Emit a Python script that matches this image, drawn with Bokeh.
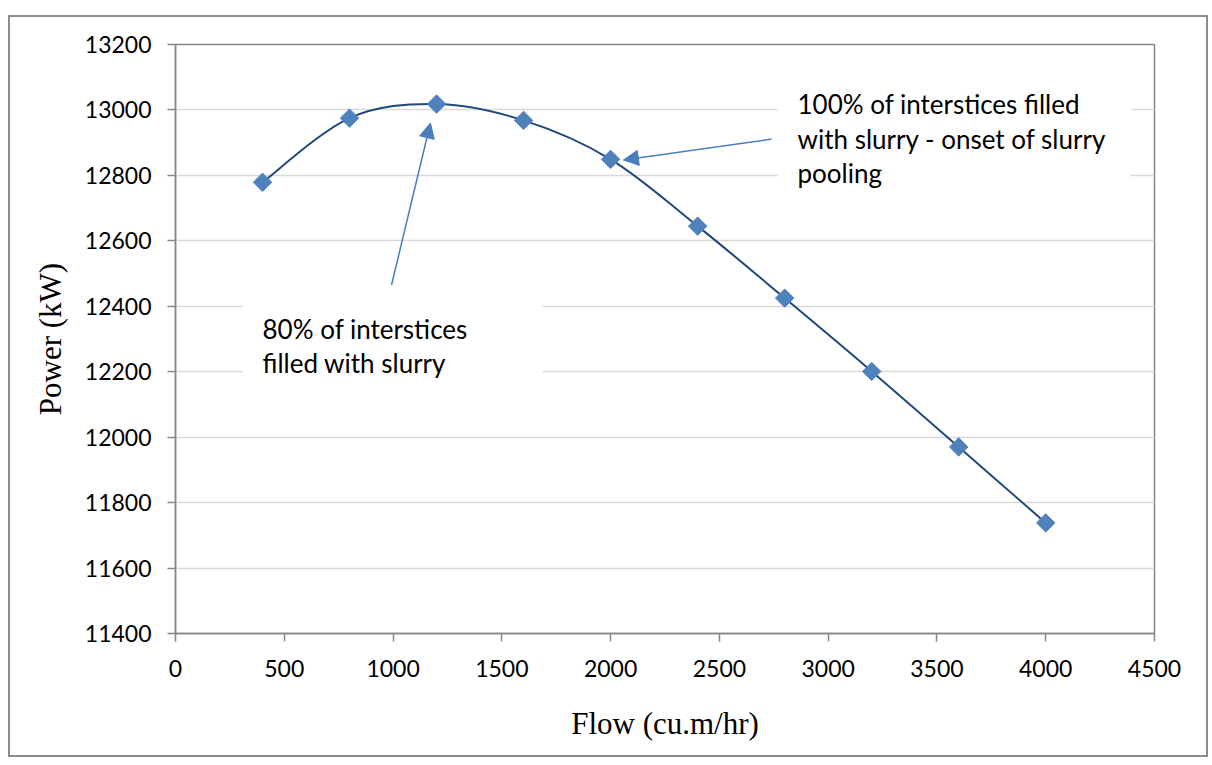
import numpy as np
from bokeh.plotting import figure
from bokeh.models import (Range1d, FixedTicker, Arrow, NormalHead, Label,
                          BoxAnnotation, ColumnDataSource, InlineStyleSheet)
from bokeh.embed import file_html
from bokeh.resources import INLINE

# ---------------- data ----------------
flow = [400, 800, 1200, 1600, 2000, 2400, 2800, 3200, 3600, 4000]
power = [12779, 12975, 13018, 12968, 12849, 12645, 12425, 12201, 11970, 11738]

x_ticks = [0, 500, 1000, 1500, 2000, 2500, 3000, 3500, 4000, 4500]
y_ticks = [11400, 11600, 11800, 12000, 12200, 12400, 12600, 12800, 13000, 13200]

x_title = "Flow (cu.m/hr)"
y_title = "Power (kW)"

note_80 = ["80% of interstices", "filled with slurry"]
note_100 = ["100% of interstices filled", "with slurry - onset of slurry", "pooling"]

# annotation anchor positions (data units)
note_80_x = 400
note_80_y = [12330, 12226]
note_80_box = (308, 1687, 12446, 12134)     # left, right, top, bottom
arrow_80 = (993, 12465, 1172, 12960)        # x0, y0, x1, y1

note_100_x = 2859
note_100_y = [13018, 12911, 12807]
note_100_box = (2767, 4390, 13090, 12737)
arrow_100 = (2740, 12911, 2059, 12847)

# ---------------- styles ----------------
MARKER = "#4F81BD"
LINE = "#1F497D"
ARROW = "#4A7EBB"
AXIS = "#868686"
GRID = "#D9D9D9"
SANS = "Lato"
SERIF = "Liberation Serif"

# smoothed line (Excel-like cardinal bezier built from the data points)
xs = np.array(flow, dtype=float)
ys = np.array(power, dtype=float)
n = len(xs)
seg = dict(x0=[], y0=[], x1=[], y1=[], cx0=[], cy0=[], cx1=[], cy1=[])
for i in range(n - 1):
    i0 = max(i - 1, 0)
    i3 = min(i + 2, n - 1)
    seg["x0"].append(xs[i]); seg["y0"].append(ys[i])
    seg["x1"].append(xs[i + 1]); seg["y1"].append(ys[i + 1])
    seg["cx0"].append(xs[i] + (xs[i + 1] - xs[i0]) / 6.0)
    seg["cy0"].append(ys[i] + (ys[i + 1] - ys[i0]) / 6.0)
    seg["cx1"].append(xs[i + 1] - (xs[i3] - xs[i]) / 6.0)
    seg["cy1"].append(ys[i + 1] - (ys[i3] - ys[i]) / 6.0)

p = figure(width=1212, height=765,
           x_range=Range1d(0, 4500), y_range=Range1d(11400, 13200),
           output_backend="svg", toolbar_location=None,
           min_border_left=175, min_border_right=58,
           min_border_top=44, min_border_bottom=132)

p.background_fill_color = "white"
p.border_fill_color = "white"
p.outline_line_color = AXIS
p.outline_line_width = 1.5

p.xgrid.visible = False
p.ygrid.grid_line_color = GRID
p.ygrid.grid_line_width = 1.5

for ax in (p.xaxis[0], p.yaxis[0]):
    ax.axis_line_color = AXIS
    ax.axis_line_width = 1.5
    ax.major_tick_line_color = AXIS
    ax.major_tick_line_width = 1.5
    ax.major_tick_out = 8
    ax.major_tick_in = 0
    ax.minor_tick_line_color = None
    ax.major_label_text_font = SANS
    ax.major_label_text_font_size = "23px"
    ax.major_label_text_color = "black"
    ax.axis_label_text_font = SERIF
    ax.axis_label_text_font_size = "31px"
    ax.axis_label_text_font_style = "normal"
    ax.axis_label_text_color = "black"

p.xaxis.ticker = FixedTicker(ticks=x_ticks)
p.yaxis.ticker = FixedTicker(ticks=y_ticks)
p.xaxis.axis_label = x_title
p.yaxis.axis_label = y_title
p.xaxis.major_label_standoff = 18
p.yaxis.major_label_standoff = 16
p.xaxis.axis_label_standoff = 26
p.yaxis.axis_label_standoff = 14

# white boxes behind the notes
for (l, r, t, b) in (note_80_box, note_100_box):
    p.add_layout(BoxAnnotation(left=l, right=r, top=t, bottom=b,
                               fill_color="white", fill_alpha=1.0,
                               line_alpha=0, level="underlay"))

# series
p.bezier(x0="x0", y0="y0", x1="x1", y1="y1", cx0="cx0", cy0="cy0",
         cx1="cx1", cy1="cy1", source=ColumnDataSource(seg),
         line_color=LINE, line_width=2)
p.scatter(flow, power, marker="square", size=13, angle=np.pi / 4,
          fill_color=MARKER, line_color=MARKER)

# arrows
for (x0, y0, x1, y1) in (arrow_80, arrow_100):
    p.add_layout(Arrow(x_start=x0, y_start=y0, x_end=x1, y_end=y1,
                       line_color=ARROW, line_width=1.5,
                       end=NormalHead(size=15, fill_color=ARROW, line_color=ARROW)))

# notes
for txt, yy in zip(note_80, note_80_y):
    p.add_layout(Label(x=note_80_x, y=yy, text=txt, text_font=SANS,
                       text_font_size="26px", text_baseline="middle",
                       text_align="left", text_color="black"))
for txt, yy in zip(note_100, note_100_y):
    p.add_layout(Label(x=note_100_x, y=yy, text=txt, text_font=SANS,
                       text_font_size="26px", text_baseline="middle",
                       text_align="left", text_color="black"))

# outer chart border (drawn over the canvas via CSS)
p.stylesheets = [InlineStyleSheet(css="""
:host { position: relative; }
:host::after {
  content: "";
  position: absolute;
  left: 8px; top: 15px;
  width: 1200px; height: 742px;
  border: 2px solid #8C8C8C;
  box-sizing: border-box;
  pointer-events: none;
  z-index: 10;
}
""")]

open("out.html", "w").write(file_html(p, INLINE))
